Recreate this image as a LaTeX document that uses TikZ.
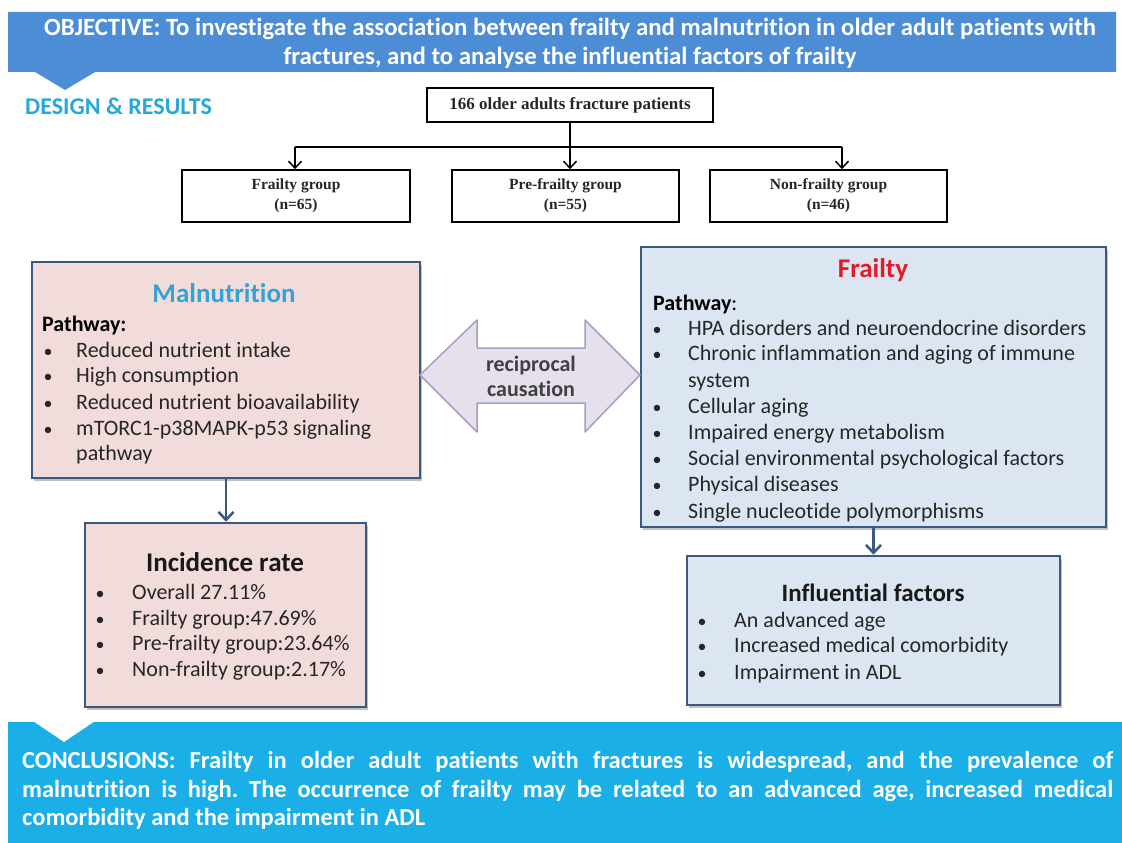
\documentclass[tikz,border=0pt]{standalone}
\usepackage{fontspec}
\setmainfont{Carlito}[Ligatures=NoCommon]
\newfontfamily\serifb{Liberation Serif}
\usetikzlibrary{arrows.meta,shadows}
\definecolor{objblue}{RGB}{76,141,214}
\definecolor{conblue}{RGB}{27,175,232}
\definecolor{dsgn}{RGB}{38,168,216}
\definecolor{edgec}{RGB}{58,88,128}
\definecolor{pinkf}{RGB}{242,220,219}
\definecolor{bluef}{RGB}{220,230,242}
\definecolor{maltitle}{RGB}{49,163,212}
\definecolor{frtitle}{RGB}{226,28,36}
\definecolor{lavf}{RGB}{229,224,236}
\definecolor{lavd}{RGB}{168,157,198}
\definecolor{txt}{RGB}{38,38,38}
\frenchspacing
\begin{document}
\begin{tikzpicture}[x=1pt,y=-1pt,
  panel/.style={draw=edgec, line width=2.5pt, drop shadow={shadow xshift=2pt,shadow yshift=-3pt,fill=black!60,opacity=0.4}, inner sep=0pt},
  grp/.style={draw=black, line width=1.5pt, fill=white, inner sep=0pt, font=\serifb\bfseries\fontsize{15.5}{20}\selectfont, align=center, text=black!85},
  blk/.style={line width=1.5pt, -{Straight Barb[length=7pt,width=13pt,line width=1.5pt]}},
  bluearr/.style={draw=edgec, line width=2.5pt, -{Straight Barb[length=8pt,width=15pt,line width=2.5pt]}},
  item/.style={anchor=base west, inner sep=0pt, text=txt, font=\fontsize{22}{26}\selectfont},
  bul/.style={anchor=base, inner sep=0pt, text=txt, font=\fontsize{18}{26}\selectfont},
  ttl/.style={anchor=base, inner sep=0pt, font=\bfseries\fontsize{27}{32}\selectfont},
  hdr/.style={anchor=base west, inner sep=0pt, text=black, font=\bfseries\fontsize{22}{26}\selectfont},
  bantxt/.style={anchor=base, inner sep=0pt, text=white, font=\bfseries\fontsize{24.8}{29}\selectfont},
  contxt/.style={anchor=base west, inner sep=0pt, text=white, font=\bfseries\fontsize{24.5}{29}\selectfont}
]
\useasboundingbox[fill=white] (0,0) rectangle (1122,843);

% top banner
\fill[objblue] (8,12) -- (1116,12) -- (1116,72) -- (95,72) -- (65,90) -- (35,72) -- (8,72) -- cycle;
\node[bantxt] (obj1) at (570,36) {OBJECTIVE: To investigate the association between frailty and malnutrition in older adult patients with};
\node[bantxt] (obj2) at (570,65) {fractures, and to analyse the influential factors of frailty};

\node[anchor=base west, inner sep=0pt, text=dsgn, font=\bfseries\fontsize{24}{28}\selectfont] (design) at (25,114) {DESIGN \& RESULTS};

% flow chart
\node[grp, minimum width=286pt, minimum height=34pt, font=\serifb\bfseries\fontsize{17}{20}\selectfont] (top) at (570,105) {166 older adults fracture patients};
\node[grp, minimum width=228pt, minimum height=52pt] (g1) at (296,196) {Frailty group\\(n=65)};
\node[grp, minimum width=227pt, minimum height=52pt] (g2) at (565.5,196) {Pre-frailty group\\(n=55)};
\node[grp, minimum width=237pt, minimum height=52pt] (g3) at (828.5,196) {Non-frailty group\\(n=46)};
\coordinate (hl) at (295,147);
\coordinate (hr) at (842,147);
\draw[line width=1.5pt] (hl) -- (hr);
\draw[blk] (top.south) -- (top.south |- g2.north);
\draw[blk] (hl) -- (hl |- g1.north);
\draw[blk] (hr) -- (hr |- g3.north);

% panels
\node[panel, fill=pinkf, minimum width=388pt, minimum height=216pt] (mal) at (226,370) {};
\node[panel, fill=bluef, minimum width=465pt, minimum height=280pt] (fra) at (873.5,387) {};
\node[panel, fill=pinkf, minimum width=281pt, minimum height=184pt] (inc) at (225.5,615) {};
\node[panel, fill=bluef, minimum width=373pt, minimum height=149pt] (inf) at (873.5,630.5) {};

\draw[bluearr] (mal.south) -- (mal.south |- inc.north);
\draw[bluearr] (fra.south) -- (inf.north);

% reciprocal arrow
\draw[fill=lavf, draw=lavd, line width=1.5pt, line join=round] (420,375) -- (477,320) -- (477,348) -- (585,348) -- (585,320) -- (640,375) -- (585,432) -- (585,403) -- (477,403) -- (477,432) -- cycle;
\node[align=center, inner sep=0pt, text=black!75, font=\bfseries\fontsize{22}{25}\selectfont] (recip) at (531,376) {reciprocal\\causation};

% malnutrition
\node[ttl, text=maltitle] (maltitle) at (224,302) {Malnutrition};
\node[hdr] (malpath) at (42,331) {Pathway:};
\foreach \t/\y [count=\i] in {Reduced nutrient intake/357, High consumption/382, Reduced nutrient bioavailability/409, mTORC1-p38MAPK-p53 signaling/435} {
  \node[bul] (mb\i) at (48,\y) {\textbullet};
  \node[item] (mi\i) at (76,\y) {\t};
}
\node[item] (mi5) at (76,460) {pathway};

% frailty
\node[ttl, text=frtitle] (frtitle) at (873,277) {Frailty};
\node[hdr] (frpath) at (653,310) {Pathway\textmd{:}};
\foreach \t/\y [count=\i] in {HPA disorders and neuroendocrine disorders/335, Chronic inflammation and aging of immune/360, Cellular aging/413, Impaired energy metabolism/439, Social environmental psychological factors/465, Physical diseases/491, Single nucleotide polymorphisms/518} {
  \node[bul] (fb\i) at (657,\y) {\textbullet};
  \node[item] (fi\i) at (688,\y) {\t};
}
\node[item] (fi8) at (688,387) {system};

% incidence
\node[ttl, text=black!90] (inctitle) at (225,571) {Incidence rate};
\foreach \t/\y [count=\i] in {Overall 27.11\%/599, Frailty group:47.69\%/625, Pre-frailty group:23.64\%/650, Non-frailty group:2.17\%/676} {
  \node[bul] (ib\i) at (100,\y) {\textbullet};
  \node[item] (ii\i) at (132,\y) {\t};
}

% influential
\node[ttl, text=black!90, font=\bfseries\fontsize{25}{30}\selectfont] (inftitle) at (873,601) {Influential factors};
\foreach \t/\y [count=\i] in {An advanced age/627, Increased medical comorbidity/652, Impairment in ADL/679} {
  \node[bul] (nb\i) at (702,\y) {\textbullet};
  \node[item] (ni\i) at (734,\y) {\t};
}

% conclusions banner
\fill[conblue] (8,722) rectangle (1122,843);
\fill[white] (33,721) -- (95,721) -- (64,742) -- cycle;
\node[contxt] (con1) at (22,768) {\makebox[1091pt][s]{CONCLUSIONS: Frailty in older adult patients with fractures is widespread, and the prevalence of}};
\node[contxt] (con2) at (22,797) {\makebox[1091pt][s]{malnutrition is high. The occurrence of frailty may be related to an advanced age, increased medical}};
\node[contxt] (con3) at (22,825) {comorbidity and the impairment in ADL};
\end{tikzpicture}
\end{document}
